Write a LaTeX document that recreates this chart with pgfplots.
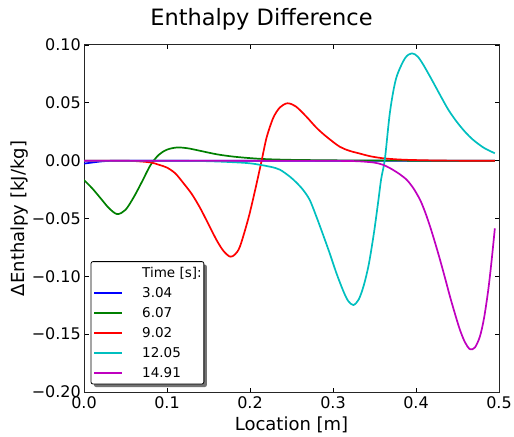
\documentclass[border=0pt]{standalone}
\usepackage{fontspec}
\setmainfont{DejaVu Sans}
\usepackage{pgfplots}
\pgfplotsset{compat=1.18}
\usetikzlibrary{backgrounds}
\definecolor{mblue}{rgb}{0,0,1}
\definecolor{mgreen}{rgb}{0,0.5,0}
\definecolor{mred}{rgb}{1,0,0}
\definecolor{mcyan}{rgb}{0,0.75,0.75}
\definecolor{mmag}{rgb}{0.75,0,0.75}
\begin{document}
\begin{tikzpicture}
\begin{axis}[
  width=415pt, height=347pt, scale only axis,
  xmin=0, xmax=0.5, ymin=-0.2, ymax=0.1,
  xtick={0,0.1,0.2,0.3,0.4,0.5},
  xticklabels={0.0,0.1,0.2,0.3,0.4,0.5},
  ytick={-0.2,-0.15,-0.1,-0.05,0,0.05,0.1},
  yticklabels={−0.20,−0.15,−0.10,−0.05,0.00,0.05,0.10},
  tick align=inside, major tick length=4.5pt, minor tick num=0,
  tick style={black, line width=0.8pt},
  axis line style={black!85, line width=1pt},
  ticklabel style={font=\fontsize{16}{19}\selectfont, inner sep=0pt},
  yticklabel style={xshift=-3pt},
  xticklabel style={yshift=-4.7pt},
  every axis plot/.append style={line width=1.7pt, line join=round},
  legend cell align=left,
  legend image code/.code={\path (0pt,0pt) -- (28pt,0pt); \draw[#1, line width=2pt] (7pt,0pt) -- (28pt,0pt);},
  legend image post style={line width=2pt},
  legend style={name=leg, at={(axis description cs:0,0)}, anchor=south west, xshift=7pt, yshift=8pt,
    draw=none, fill=white,
    font=\fontsize{13.5}{16}\selectfont,
    inner xsep=2pt, inner ysep=1pt, row sep=0pt, column sep=19pt,
    nodes={inner xsep=0pt, inner ysep=3.5pt, text height=11pt, text depth=2pt}},
]
\addlegendimage{empty legend}
\addlegendentry{Time [s]:}
% 3.04
\addplot[mblue, smooth] coordinates {
(0.000,-0.0025) (0.010,-0.0016) (0.020,-0.0007) (0.030,-0.0002) (0.040,0) (0.070,0) (0.100,0) (0.200,0) (0.300,0) (0.400,0) (0.495,0)};
\addlegendentry{3.04}
% 6.07
\addplot[mgreen, smooth] coordinates {
(0.000,-0.0167) (0.010,-0.0240) (0.020,-0.0325) (0.030,-0.0410) (0.040,-0.0462) (0.050,-0.0425)
(0.060,-0.0315) (0.070,-0.0180) (0.080,-0.0040) (0.090,0.0050) (0.100,0.0095) (0.112,0.0114)
(0.125,0.0107) (0.140,0.0085) (0.160,0.0055) (0.180,0.0035) (0.200,0.0022) (0.220,0.0013)
(0.250,0.0007) (0.300,0.0003) (0.350,0.0001) (0.400,0) (0.450,0) (0.495,0)};
\addlegendentry{6.07}
% 9.02
\addplot[mred, smooth] coordinates {
(0.000,0) (0.040,0) (0.060,-0.0003) (0.080,-0.0015) (0.090,-0.0035) (0.100,-0.0060)
(0.110,-0.0110) (0.120,-0.0196) (0.130,-0.0290) (0.140,-0.0410) (0.150,-0.0550) (0.160,-0.0690)
(0.168,-0.0780) (0.176,-0.0830) (0.182,-0.0810) (0.188,-0.0740) (0.198,-0.0500) (0.206,-0.0260)
(0.214,0.0000) (0.220,0.0200) (0.228,0.0370) (0.236,0.0460) (0.245,0.0496) (0.255,0.0470)
(0.268,0.0380) (0.280,0.0285) (0.292,0.0208) (0.308,0.0121) (0.320,0.0085) (0.333,0.0060)
(0.345,0.0038) (0.361,0.0020) (0.380,0.0010) (0.400,0.0005) (0.430,0.0001) (0.460,0) (0.495,0)};
\addlegendentry{9.02}
% 12.05
\addplot[mcyan, smooth] coordinates {
(0.000,0) (0.050,0) (0.100,0) (0.140,-0.0003) (0.170,-0.0010) (0.200,-0.0023) (0.224,-0.0052)
(0.236,-0.0078) (0.248,-0.0138) (0.256,-0.0190) (0.264,-0.0253) (0.272,-0.0340) (0.280,-0.0484)
(0.288,-0.0640) (0.296,-0.0800) (0.304,-0.0970) (0.312,-0.1120) (0.318,-0.1210) (0.3245,-0.1248)
(0.331,-0.1200) (0.337,-0.1080) (0.343,-0.0900) (0.349,-0.0640) (0.354,-0.0380) (0.358,-0.0160)
(0.3626,0.0020) (0.3687,0.0424) (0.376,0.0710) (0.3867,0.0885) (0.395,0.0928) (0.402,0.0900)
(0.409,0.0827) (0.419,0.0700) (0.429,0.0568) (0.439,0.0440) (0.449,0.0337) (0.459,0.0250)
(0.469,0.0179) (0.482,0.0110) (0.495,0.0064)};
\addlegendentry{12.05}
% 14.91
\addplot[mmag, smooth] coordinates {
(0.000,0) (0.100,0) (0.200,0) (0.280,0) (0.310,-0.0002) (0.330,-0.0005) (0.349,-0.0016)
(0.360,-0.0035) (0.369,-0.0066) (0.380,-0.0115) (0.389,-0.0167) (0.397,-0.0240) (0.405,-0.0340)
(0.411,-0.0445) (0.417,-0.0570) (0.423,-0.0710) (0.429,-0.0858) (0.435,-0.1015) (0.441,-0.1176)
(0.447,-0.1325) (0.453,-0.1464) (0.459,-0.1570) (0.465,-0.1630) (0.471,-0.1615) (0.477,-0.1520)
(0.482,-0.1360) (0.487,-0.1120) (0.491,-0.0870) (0.495,-0.0585)};
\addlegendentry{14.91}
\end{axis}
\begin{scope}[on background layer]
\fill[black!55, rounded corners=2pt] ([shift={(3pt,-3pt)}]leg.south west) rectangle ([shift={(3pt,-3pt)}]leg.north east);
\end{scope}
\draw[black, line width=0.8pt, rounded corners=2pt] (leg.south west) rectangle (leg.north east);
\node[font=\fontsize{22.5}{27}\selectfont, anchor=base] at ([xshift=177.5pt, yshift=19pt]current axis.north west) {Enthalpy Difference};
\node[font=\fontsize{18}{22}\selectfont, anchor=base] at ([yshift=-38.7pt]current axis.south) {Location [m]};
\node[font=\fontsize{18}{22}\selectfont, anchor=base, rotate=90] at ([xshift=-59pt]current axis.west) {ΔEnthalpy [kJ/kg]};
\pgfresetboundingbox
\path[use as bounding box] ([shift={(-84pt,-44pt)}]current axis.south west) rectangle ([shift={(15pt,45pt)}]current axis.north east);
\end{tikzpicture}
\end{document}
